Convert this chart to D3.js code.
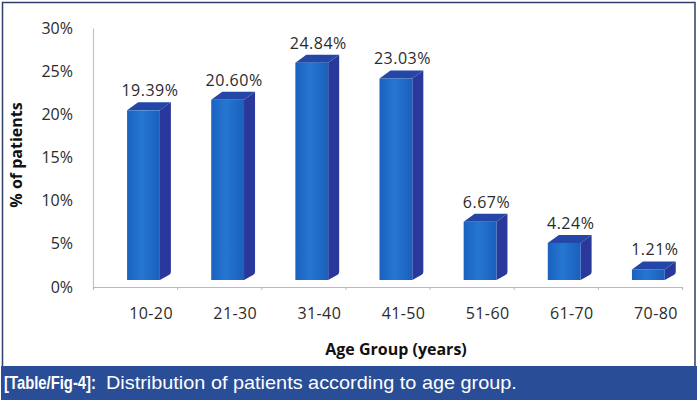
<!DOCTYPE html>
<html>
<head>
<meta charset="utf-8">
<script src="https://cdn.jsdelivr.net/npm/d3@7"></script>
<style>
  html, body { margin: 0; padding: 0; background: #fff; }
  svg { display: block; }
  text { font-family: "Open Sans", "Liberation Sans", sans-serif; fill: #2b2b2b; }
</style>
</head>
<body>
<svg id="chart" width="698" height="403"></svg>
<script>
// values
const ageGroups = ['10-20', '21-30', '31-40', '41-50', '51-60', '61-70', '70-80'];
const patientPct = [19.39, 20.60, 24.84, 23.03, 6.67, 4.24, 1.21];
const yTicks = [0, 5, 10, 15, 20, 25, 30];
const yTitle = '% of patients';
const xTitle = 'Age Group (years)';
const captionLead = '[Table/Fig-4]:';
const captionText = 'Distribution of patients according to age group.';

const svg = d3.select('#chart');
const W = 698, H = 403;

// frame and caption strip
svg.append('rect')
    .attr('x', 2.5).attr('y', 2.5)
    .attr('width', W - 5.5).attr('height', 366)
    .attr('fill', '#fff')
    .attr('stroke', '#2e4068').attr('stroke-width', 1.5);

svg.append('rect')
    .attr('x', 1).attr('y', 366)
    .attr('width', W - 2).attr('height', 34)
    .attr('fill', '#2a4d97');

// caption is a narrow font in the original, so squeeze horizontally to fit
function captionPart(str, x0, width, bold) {
    const t = svg.append('text')
        .style('font-family', '"Liberation Sans", Arial, sans-serif')
        .style('font-size', '19px')
        .style('font-weight', bold ? 'bold' : 'normal')
        .style('fill', '#fff')
        .text(str);
    const natural = t.node().getComputedTextLength();
    t.attr('transform', `translate(${x0},389) scale(${width / natural},1)`);
}
captionPart(captionLead, 4, 92, true);
captionPart(captionText, 106, 411, false);

// scales: axis on the floor, bar fronts a little lower/in front
const x = d3.scaleBand().domain(ageGroups).range([93, 682]).paddingInner(0);
const y = d3.scaleLinear().domain([0, 30]).range([287, 28]);
const yBar = d3.scaleLinear().domain([0, 30]).range([280, 280 - 30 * 8.75]);

const bw = x.bandwidth();
const frontOff = bw * 0.405, frontW = bw * 0.39;
const dx = 11, dy = -8;

// y axis
const yAxis = svg.append('g')
    .attr('transform', 'translate(93,0)')
    .call(d3.axisLeft(y).tickValues(yTicks).tickFormat(d => d + '%')
        .tickSize(0).tickPadding(20));
yAxis.select('.domain').attr('stroke', '#b4c6d6').attr('stroke-width', 1.2);
yAxis.selectAll('text')
    .style('font-size', '16px')
    .style('font-family', '"Open Sans", sans-serif')
    .attr('fill', '#2b2b2b');

// x axis with ticks on band edges
const edge = d3.scaleLinear().domain([0, ageGroups.length]).range(x.range());
const xAxis = svg.append('g')
    .attr('transform', 'translate(0,287)')
    .call(d3.axisBottom(edge).ticks(ageGroups.length).tickFormat('')
        .tickSizeInner(3).tickSizeOuter(3));
xAxis.select('.domain').attr('stroke', '#9cc0e2').attr('stroke-width', 1.2);
xAxis.selectAll('.tick line').attr('stroke', '#9cc0e2');

// category labels
svg.append('g').selectAll('text')
    .data(ageGroups)
    .join('text')
    .attr('x', d => x(d) + bw / 2 + 16)
    .attr('y', 319)
    .attr('text-anchor', 'middle')
    .style('font-size', '16px')
    .style('letter-spacing', '0.4px')
    .text(d => d);

// gradient for the front faces
const defs = svg.append('defs');
const grad = defs.append('linearGradient').attr('id', 'front')
    .attr('x1', '0').attr('x2', '1').attr('y1', '0').attr('y2', '0');
grad.append('stop').attr('offset', '0%').attr('stop-color', '#1a62bf');
grad.append('stop').attr('offset', '45%').attr('stop-color', '#2576d2');
grad.append('stop').attr('offset', '100%').attr('stop-color', '#1a5fbb');

// 3D bars
const bars = svg.append('g').selectAll('g')
    .data(ageGroups.map((g, i) => ({ g, v: patientPct[i] })))
    .join('g');

bars.append('path')  // side face
    .attr('fill', '#2a389b')
    .attr('d', d => {
        const x1 = x(d.g) + frontOff + frontW;
        const t = yBar(d.v), b = yBar(0);
        return `M${x1},${t}L${x1 + dx},${t + dy}L${x1 + dx},${b + dy}Q${x1 + dx},${b + dy + 2} ${x1 + dx - 2},${b + dy + 3}L${x1},${b}Z`;
    });

bars.append('path')  // top face
    .attr('fill', '#2346a7')
    .attr('d', d => {
        const x0 = x(d.g) + frontOff;
        const t = yBar(d.v);
        return `M${x0},${t}L${x0 + dx},${t + dy}L${x0 + frontW + dx},${t + dy}L${x0 + frontW},${t}Z`;
    });

bars.append('rect')  // front face
    .attr('fill', 'url(#front)')
    .attr('x', d => x(d.g) + frontOff)
    .attr('y', d => yBar(d.v))
    .attr('width', frontW)
    .attr('height', d => yBar(0) - yBar(d.v));

// value labels
bars.append('text')
    .attr('x', d => x(d.g) + frontOff + (frontW + dx) / 2 + 1)
    .attr('y', d => yBar(d.v) + dy - 6)
    .attr('text-anchor', 'middle')
    .style('font-size', '16px')
    .style('letter-spacing', '0.5px')
    .text(d => d.v.toFixed(2) + '%');

// axis titles
svg.append('text')
    .attr('transform', 'translate(22,155) rotate(-90)')
    .attr('text-anchor', 'middle')
    .style('font-size', '16px').style('font-weight', 'bold')
    .style('fill', '#111')
    .text(yTitle);

svg.append('text')
    .attr('x', 396).attr('y', 355)
    .attr('text-anchor', 'middle')
    .style('font-size', '16px').style('font-weight', 'bold')
    .style('fill', '#111')
    .text(xTitle);
</script>
</body>
</html>
